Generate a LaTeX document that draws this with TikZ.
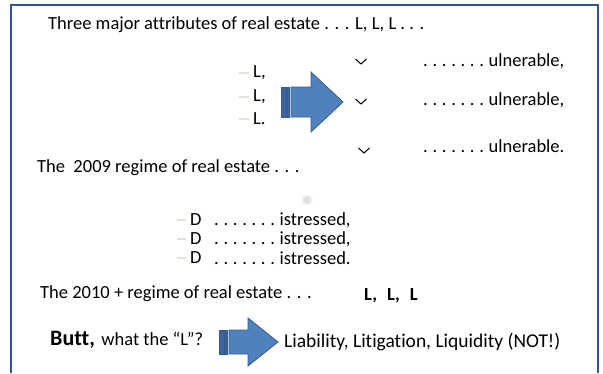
\documentclass[tikz,border=0pt]{standalone}
\usepackage{fontspec}
\setmainfont{Carlito}[Ligatures={NoCommon}]
\definecolor{framec}{HTML}{2F5597}
\definecolor{arrowfill}{HTML}{4F81BD}
\definecolor{arrowdark}{HTML}{3B64A0}
\definecolor{arrowline}{HTML}{385D8A}
\definecolor{dashc}{HTML}{E6E1D6}
\newcommand\tightsp{\spaceskip=3.3pt\relax}
\tikzset{
  txt/.style={anchor=west, inner sep=0pt, font=\fontsize{18.5}{22}\selectfont},
  btxt/.style={txt, font=\fontsize{18.5}{22}\selectfont\bfseries},
  bigb/.style={txt, font=\fontsize{22}{26}\selectfont\bfseries},
  chev/.style={line width=1pt, black},
  bdash/.style={dashc, line width=1.2pt},
  arrbody/.style={fill=arrowfill, draw=arrowline, line width=0.8pt},
  arrstripe/.style={fill=arrowdark, draw=arrowline, line width=0.6pt},
}
\begin{document}
\begin{tikzpicture}[x=1pt,y=-1pt]
\useasboundingbox (0,0) rectangle (603,373);
\fill[white] (0,0) rectangle (603,373);
% frame
\draw[framec, line width=2pt] (11,373) -- (11,5) -- (598,5) -- (598,373);

% title
\node[txt] (t1) at (48,25) {Three major attributes of real estate . . . L, L, L . . .};

% L bullets
\draw[bdash] (239,73) -- (249,73);
\draw[bdash] (239,97) -- (249,97);
\draw[bdash] (239,119) -- (249,119);
\node[txt] (l1) at (253,73) {L,};
\node[txt] (l2) at (253,97) {L,};
\node[txt] (l3) at (253,119) {L.};

% arrow 1
\fill[arrstripe] (281,87) rectangle (286,117);
\fill[arrstripe] (287.5,87) rectangle (289.5,117);
\draw[arrbody] (291,87) -- (311,87) -- (311,72) -- (343,102) -- (311,132) -- (311,117) -- (291,117) -- cycle;

% chevrons
\draw[chev] (355.5,59) -- (361,64) -- (366.5,59);
\draw[chev] (355.5,99) -- (361,104) -- (366.5,99);
\draw[chev] (358.5,148) -- (364,153) -- (369.5,148);

% ulnerable
\node[txt] (u1) at (423,61) {\tightsp . . . . . . . ulnerable,};
\node[txt] (u2) at (423,100) {\tightsp . . . . . . . ulnerable,};
\node[txt] (u3) at (423,146) {\tightsp . . . . . . . ulnerable.};

% 2009
\node[txt] (t2) at (37,168) {The\ \ 2009 regime of real estate . . .};
\fill[gray!40, opacity=0.6] (307,200) circle (3.5);
\fill[gray!25, opacity=0.5] (307,200) circle (5.5);

% D rows
\draw[bdash] (177,220) -- (186,220);
\draw[bdash] (177,239) -- (186,239);
\draw[bdash] (177,258) -- (186,258);
\node[txt] (d1) at (190,220) {D};
\node[txt] (d2) at (190,239) {D};
\node[txt] (d3) at (190,258) {D};
\node[txt] (e1) at (214,220) {\tightsp . . . . . . . istressed,};
\node[txt] (e2) at (214,239) {\tightsp . . . . . . . istressed,};
\node[txt] (e3) at (214,258) {\tightsp . . . . . . . istressed.};

% 2010
\node[txt] (t3) at (40,294) {The 2010 + regime of real estate . . .};
\node[btxt] (lll) at (364,296) {L,\hspace{10pt}L,\hspace{10pt}L};

% Butt
\node[bigb] (butt) at (50,340) {Butt,};
\node[txt, anchor=base west] (what) at ([xshift=6pt]butt.base east) {what the “L”?};

% arrow 2
\fill[arrstripe] (219,330) rectangle (224,354);
\fill[arrstripe] (225.5,330) rectangle (227.5,354);
\draw[arrbody] (229,330) -- (248,330) -- (248,318) -- (278,342) -- (248,366) -- (248,354) -- (229,354) -- cycle;

\node[txt, font=\fontsize{19.5}{23}\selectfont] (liab) at (284,342) {Liability, Litigation, Liquidity (NOT!)};
\end{tikzpicture}
\end{document}
